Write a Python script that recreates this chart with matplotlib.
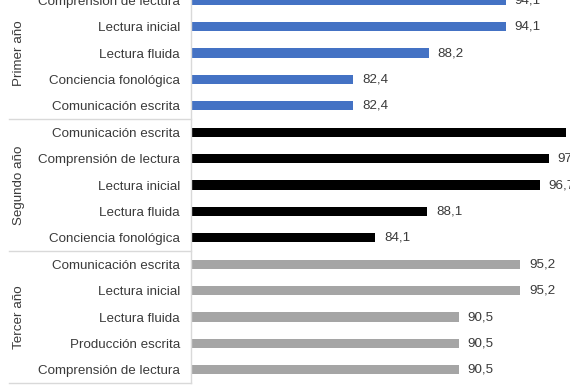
import matplotlib
matplotlib.use("Agg")
import matplotlib.pyplot as plt
import matplotlib.transforms as mtransforms

plt.rcParams['font.family'] = ['Liberation Sans', 'DejaVu Sans']

# filas de arriba hacia abajo
grupos = ["Primer año", "Segundo año", "Tercer año"]
primer_cat = ["Comprensión de lectura", "Lectura inicial", "Lectura fluida",
              "Conciencia fonológica", "Comunicación escrita"]
primer_val = [94.1, 94.1, 88.2, 82.4, 82.4]
segundo_cat = ["Comunicación escrita", "Comprensión de lectura", "Lectura inicial",
               "Lectura fluida", "Conciencia fonológica"]
segundo_val = [98.7, 97.4, 96.7, 88.1, 84.1]
tercer_cat = ["Comunicación escrita", "Lectura inicial", "Lectura fluida",
              "Producción escrita", "Comprensión de lectura"]
tercer_val = [95.2, 95.2, 90.5, 90.5, 90.5]

colores = ["#4472C4", "#000000", "#A5A5A5"]
txt = "#3A3A3A"
linea = "#D9D9D9"

cats = [primer_cat, segundo_cat, tercer_cat]
vals = [primer_val, segundo_val, tercer_val]

fig = plt.figure(figsize=(5.7, 3.85), dpi=100)
W, H = 570, 385
left, bottom = 191.2, 2
ax_w = 30 * 13.05
ax_h = 15 * 26.4
ax = fig.add_axes([left / W, bottom / H, ax_w / W, ax_h / H])

etiquetas = []
pos = 0
for g in range(3):
    ys = list(range(pos, pos + len(cats[g])))
    bars = ax.barh(ys, vals[g], height=0.35, color=colores[g], left=0)
    ax.bar_label(bars, labels=[f"{v:.1f}".replace(".", ",") for v in vals[g]],
                 padding=6.5, fontsize=9.6, color=txt, clip_on=False)
    etiquetas += cats[g]
    pos += len(cats[g])

ax.set_xlim(70, 100)
ax.set_ylim(14.5, -0.5)
ax.set_yticks(range(15))
ax.set_yticklabels(etiquetas, fontsize=9.6, color=txt)
ax.tick_params(axis="y", length=0, pad=8)
ax.set_xticks([])
for s in ["top", "right", "bottom"]:
    ax.spines[s].set_visible(False)
ax.spines["left"].set_color(linea)
ax.spines["left"].set_linewidth(1)

trans = mtransforms.blended_transform_factory(ax.transAxes, ax.transData)
x0 = (9 - left) / ax_w
for g in range(3):
    lo = g * 5 - 0.5
    hi = g * 5 + 4.5
    ax.plot([x0, 0], [hi, hi], color=linea, lw=1, transform=trans, clip_on=False)
    ax.text((19 - left) / ax_w, (lo + hi) / 2, grupos[g], rotation=90,
            ha="center", va="center", fontsize=9.6, color=txt, transform=trans)

fig.savefig("out.png", dpi=100)
